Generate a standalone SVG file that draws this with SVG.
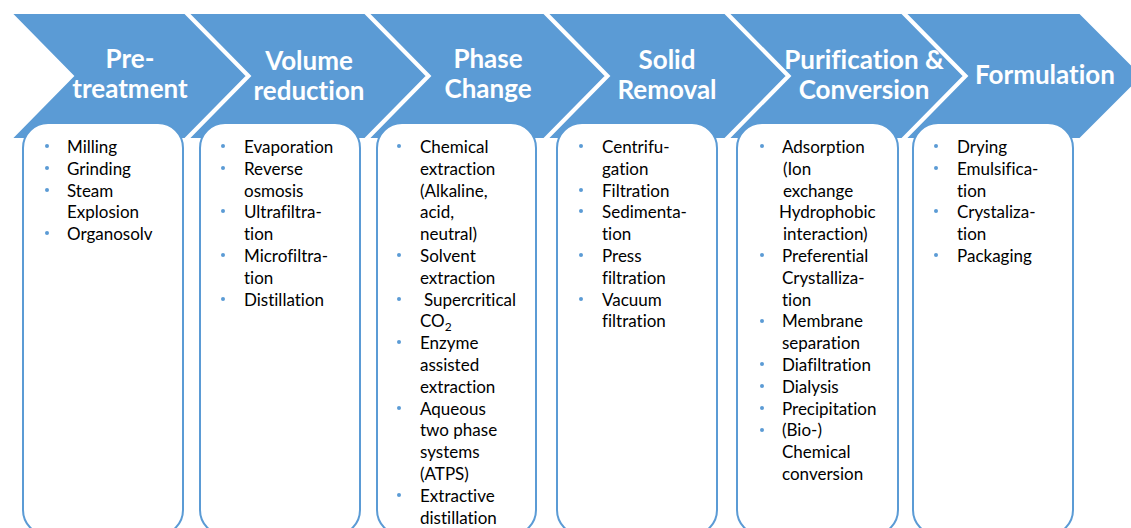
<svg xmlns="http://www.w3.org/2000/svg" width="1131" height="528" viewBox="0 0 1131 528">
<style>
.chev{fill:#5B9BD5;stroke:#ffffff;stroke-width:2}
.box{fill:#ffffff;stroke:#5B9BD5;stroke-width:2}
.hd{font-family:Lato,"Open Sans","Liberation Sans",sans-serif;font-weight:bold;font-size:26px;fill:#ffffff;text-anchor:middle;font-variant-ligatures:none}
.tx{font-family:Lato,"Open Sans","Liberation Sans",sans-serif;font-size:17px;fill:#000000;font-variant-ligatures:none}
.bl{fill:#5B9BD5}
</style>
<rect width="1131" height="528" fill="#ffffff"/>
<g id="chevrons">
<polygon class="chev" points="11,13 185,13 247,76 185,139 11,139 73,76"/>
<polygon class="chev" points="188,13 365,13 427,76 365,139 188,139 250,76"/>
<polygon class="chev" points="368,13 544,13 606,76 544,139 368,139 430,76"/>
<polygon class="chev" points="547,13 725,13 787,76 725,139 547,139 609,76"/>
<polygon class="chev" points="728,13 902,13 964,76 902,139 728,139 790,76"/>
<polygon class="chev" points="905,13 1080,13 1143,76 1080,139 905,139 967,76"/>
</g>
<g id="n1">
<text class="hd"><tspan x="130" y="68">Pre-</tspan><tspan x="130" y="98">treatment</tspan></text>
<rect class="box" x="23" y="123" width="160" height="412" rx="25"/>
<g class="bl"><circle cx="47" cy="146" r="2"/><circle cx="47" cy="168" r="2"/><circle cx="47" cy="190" r="2"/><circle cx="47" cy="233" r="2"/></g>
<text class="tx"><tspan x="67" y="153">Milling</tspan><tspan x="67" dy="21.8">Grinding</tspan><tspan x="67" dy="21.8">Steam</tspan><tspan x="67" dy="21.8">Explosion</tspan><tspan x="67" dy="21.8">Organosolv</tspan></text>
</g>
<g id="n2">
<text class="hd"><tspan x="309" y="70">Volume</tspan><tspan x="309" y="100">reduction</tspan></text>
<rect class="box" x="200" y="123" width="160" height="412" rx="25"/>
<g class="bl"><circle cx="223" cy="146" r="2"/><circle cx="223" cy="168" r="2"/><circle cx="223" cy="211" r="2"/><circle cx="223" cy="255" r="2"/><circle cx="223" cy="299" r="2"/></g>
<text class="tx"><tspan x="244" y="153">Evaporation</tspan><tspan x="244" dy="21.8">Reverse</tspan><tspan x="244" dy="21.8">osmosis</tspan><tspan x="244" dy="21.8">Ultrafiltra-</tspan><tspan x="244" dy="21.8">tion</tspan><tspan x="244" dy="21.8">Microfiltra-</tspan><tspan x="244" dy="21.8">tion</tspan><tspan x="244" dy="21.8">Distillation</tspan></text>
</g>
<g id="n3">
<text class="hd"><tspan x="488" y="68">Phase</tspan><tspan x="488" y="98">Change</tspan></text>
<rect class="box" x="377" y="123" width="159" height="412" rx="25"/>
<g class="bl"><circle cx="399" cy="146" r="2"/><circle cx="399" cy="255" r="2"/><circle cx="399" cy="299" r="2"/><circle cx="399" cy="342" r="2"/><circle cx="399" cy="408" r="2"/><circle cx="399" cy="495" r="2"/></g>
<text class="tx"><tspan x="420" y="153">Chemical</tspan><tspan x="420" dy="21.8">extraction</tspan><tspan x="420" dy="21.8">(Alkaline,</tspan><tspan x="420" dy="21.8">acid,</tspan><tspan x="420" dy="21.8">neutral)</tspan><tspan x="420" dy="21.8">Solvent</tspan><tspan x="420" dy="21.8">extraction</tspan><tspan x="424" dy="21.8">Supercritical</tspan><tspan x="420" dy="21.8">CO</tspan><tspan font-size="12" dy="4">2</tspan><tspan x="420" dy="17.8">Enzyme</tspan><tspan x="420" dy="21.8">assisted</tspan><tspan x="420" dy="21.8">extraction</tspan><tspan x="420" dy="21.8">Aqueous</tspan><tspan x="420" dy="21.8">two phase</tspan><tspan x="420" dy="21.8">systems</tspan><tspan x="420" dy="21.8">(ATPS)</tspan><tspan x="420" dy="21.8">Extractive</tspan><tspan x="420" dy="21.8">distillation</tspan></text>
</g>
<g id="n4">
<text class="hd"><tspan x="667" y="69">Solid</tspan><tspan x="667" y="99">Removal</tspan></text>
<rect class="box" x="557" y="123" width="160" height="412" rx="25"/>
<g class="bl"><circle cx="581" cy="146" r="2"/><circle cx="581" cy="190" r="2"/><circle cx="581" cy="211" r="2"/><circle cx="581" cy="255" r="2"/><circle cx="581" cy="299" r="2"/></g>
<text class="tx"><tspan x="602" y="153">Centrifu-</tspan><tspan x="602" dy="21.8">gation</tspan><tspan x="602" dy="21.8">Filtration</tspan><tspan x="602" dy="21.8">Sedimenta-</tspan><tspan x="602" dy="21.8">tion</tspan><tspan x="602" dy="21.8">Press</tspan><tspan x="602" dy="21.8">filtration</tspan><tspan x="602" dy="21.8">Vacuum</tspan><tspan x="602" dy="21.8">filtration</tspan></text>
</g>
<g id="n5">
<text class="hd"><tspan x="864" y="69">Purification &amp;</tspan><tspan x="864" y="99">Conversion</tspan></text>
<rect class="box" x="737" y="123" width="161" height="412" rx="25"/>
<g class="bl"><circle cx="762" cy="146" r="2"/><circle cx="762" cy="255" r="2"/><circle cx="762" cy="321" r="2"/><circle cx="762" cy="364" r="2"/><circle cx="762" cy="386" r="2"/><circle cx="762" cy="408" r="2"/><circle cx="762" cy="430" r="2"/></g>
<text class="tx"><tspan x="782" y="153">Adsorption</tspan><tspan x="783" dy="21.8">(Ion</tspan><tspan x="783" dy="21.8">exchange</tspan><tspan x="779" dy="21.8">Hydrophobic</tspan><tspan x="783" dy="21.8">interaction)</tspan><tspan x="782" dy="21.8">Preferential</tspan><tspan x="782" dy="21.8">Crystalliza-</tspan><tspan x="782" dy="21.8">tion</tspan><tspan x="782" dy="21.8">Membrane</tspan><tspan x="782" dy="21.8">separation</tspan><tspan x="782" dy="21.8">Diafiltration</tspan><tspan x="782" dy="21.8">Dialysis</tspan><tspan x="782" dy="21.8">Precipitation</tspan><tspan x="782" dy="21.8">(Bio-)</tspan><tspan x="782" dy="21.8">Chemical</tspan><tspan x="782" dy="21.8">conversion</tspan></text>
</g>
<g id="n6">
<text class="hd"><tspan x="1045" y="84">Formulation</tspan></text>
<rect class="box" x="913" y="123" width="160" height="412" rx="25"/>
<g class="bl"><circle cx="936" cy="146" r="2"/><circle cx="936" cy="168" r="2"/><circle cx="936" cy="211" r="2"/><circle cx="936" cy="255" r="2"/></g>
<text class="tx"><tspan x="957" y="153">Drying</tspan><tspan x="957" dy="21.8">Emulsifica-</tspan><tspan x="957" dy="21.8">tion</tspan><tspan x="957" dy="21.8">Crystaliza-</tspan><tspan x="957" dy="21.8">tion</tspan><tspan x="957" dy="21.8">Packaging</tspan></text>
</g>
</svg>
